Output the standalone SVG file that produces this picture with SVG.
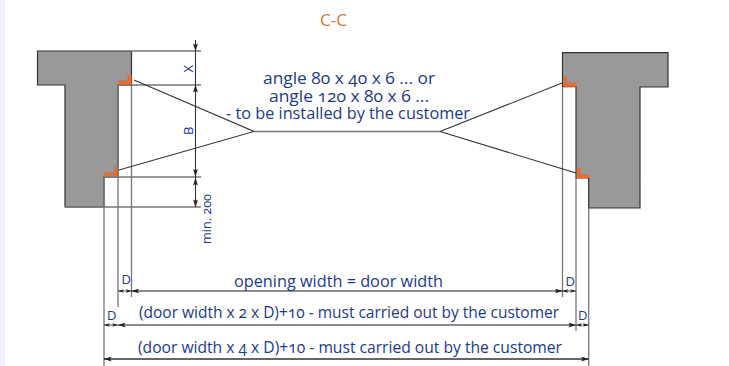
<svg xmlns="http://www.w3.org/2000/svg" width="729" height="366" viewBox="0 0 729 366">
<defs>
<marker id="a" viewBox="0 0 10 6" markerWidth="8" markerHeight="5" refX="9.500" refY="3" orient="auto-start-reverse" markerUnits="userSpaceOnUse"><path d="M0 0L10 3L0 6L2 3Z" fill="#222"/></marker>
<marker id="s" viewBox="0 0 10 6" markerWidth="6" markerHeight="4" refX="9.500" refY="3" orient="auto-start-reverse" markerUnits="userSpaceOnUse"><path d="M0 0L10 3L0 6L2 3Z" fill="#222"/></marker>
</defs>
<style>
text{font-family:"Open Sans","Noto Sans","Liberation Sans",sans-serif;fill:#1a3a8c;font-size:16px;font-variant-numeric:oldstyle-nums}
.sm{font-size:13px}
.wall{fill:#999;stroke:#333;stroke-width:1.200}
.ang{fill:#e07038}
.g{stroke:#777;stroke-width:1.300;fill:none}
.k{stroke:#333;stroke-width:1.100;fill:none}
.d{stroke:#666;stroke-width:1.400;fill:none;marker-start:url(#a);marker-end:url(#a)}
.ds{stroke:#555;stroke-width:1;fill:none;marker-start:url(#s);marker-end:url(#s)}
.v{stroke:#333;stroke-width:1;fill:none;marker-start:url(#a);marker-end:url(#a)}
</style>
<rect x="0" y="0" width="5" height="366" fill="#eef2fc"/>
<g id="title"><text x="320" y="26" style="fill:#e07038" textLength="27" lengthAdjust="spacingAndGlyphs">C-C</text></g>
<g id="wall-left">
<path class="wall" d="M37.500 51H131.500V85H118V177H104V207H65V85H37.500Z"/>
<path class="ang" d="M118 80.300H127.500V74.700H131.500V85H118Z"/>
<path class="ang" d="M103.700 172.300H114V166.300H118V177H103.700Z"/>
</g>
<g id="wall-right">
<path class="wall" d="M562.500 52.700H668V87H640V208H588.700V178H576V86.700H562.500Z"/>
<path class="ang" d="M563.300 76H567V82.300H576.700V86.700H563.300Z"/>
<path class="ang" d="M576.700 168H581V174.300H589.700V178H576.700Z"/>
</g>
<g id="connectors">
<path class="g" d="M104 177V366M118 85V307M131.500 85V297M562.500 87V297M576 178V331M588.700 208V366"/>
<path class="g" d="M131.500 51H201M118 85H201M104 177H201M65 207H201"/>
<path class="k" d="M134 80L254 131.500L119 170M440 131.500L562 83M440 131.500L576 173"/>
<path class="g" d="M254 131.500H440"/>
<line class="k" x1="195.500" y1="40" x2="195.500" y2="207"/>
<path d="M195.500 51L193 43.500L195.500 45L198 43.500Z" fill="#222"/>
<line class="v" x1="195.500" y1="85" x2="195.500" y2="176.500"/>
<line class="v" x1="195.500" y1="178" x2="195.500" y2="207"/>
<line class="d" x1="131.500" y1="291" x2="562.500" y2="291"/>
<line class="d" x1="118" y1="325" x2="576" y2="325"/>
<line class="d" x1="104" y1="359" x2="588.700" y2="359" style="stroke:#333"/>
<line class="ds" x1="118" y1="291" x2="131.500" y2="291"/>
<line class="ds" x1="104" y1="325" x2="118" y2="325"/>
<line class="ds" x1="562.500" y1="291" x2="576" y2="291"/>
<line class="ds" x1="576" y1="325" x2="588.700" y2="325"/>
</g>
<g id="labels">
<text x="263" y="84" textLength="172" lengthAdjust="spacingAndGlyphs">angle 80 x 40 x 6 ... or</text>
<text x="269" y="102" textLength="160" lengthAdjust="spacingAndGlyphs">angle 120 x 80 x 6 ...</text>
<text x="226" y="119" textLength="244" lengthAdjust="spacingAndGlyphs">- to be installed by the customer</text>
<text x="234" y="286.500" textLength="209" lengthAdjust="spacingAndGlyphs">opening width = door width</text>
<text x="139" y="318" textLength="420" lengthAdjust="spacingAndGlyphs">(door width x 2 x D)+10 - must carried out by the customer</text>
<text x="138" y="352.500" textLength="424" lengthAdjust="spacingAndGlyphs">(door width x 4 x D)+10 - must carried out by the customer</text>
<text class="sm" x="121.500" y="284">D</text>
<text class="sm" x="107" y="320">D</text>
<text class="sm" x="565.500" y="286">D</text>
<text class="sm" x="578" y="320">D</text>
<text class="sm" transform="translate(192.500 72.500) rotate(-90)">X</text>
<text class="sm" transform="translate(192.500 135) rotate(-90)">B</text>
<text class="sm" transform="translate(211 244) rotate(-90)" textLength="50" lengthAdjust="spacingAndGlyphs">min. 200</text>
</g>
</svg>
